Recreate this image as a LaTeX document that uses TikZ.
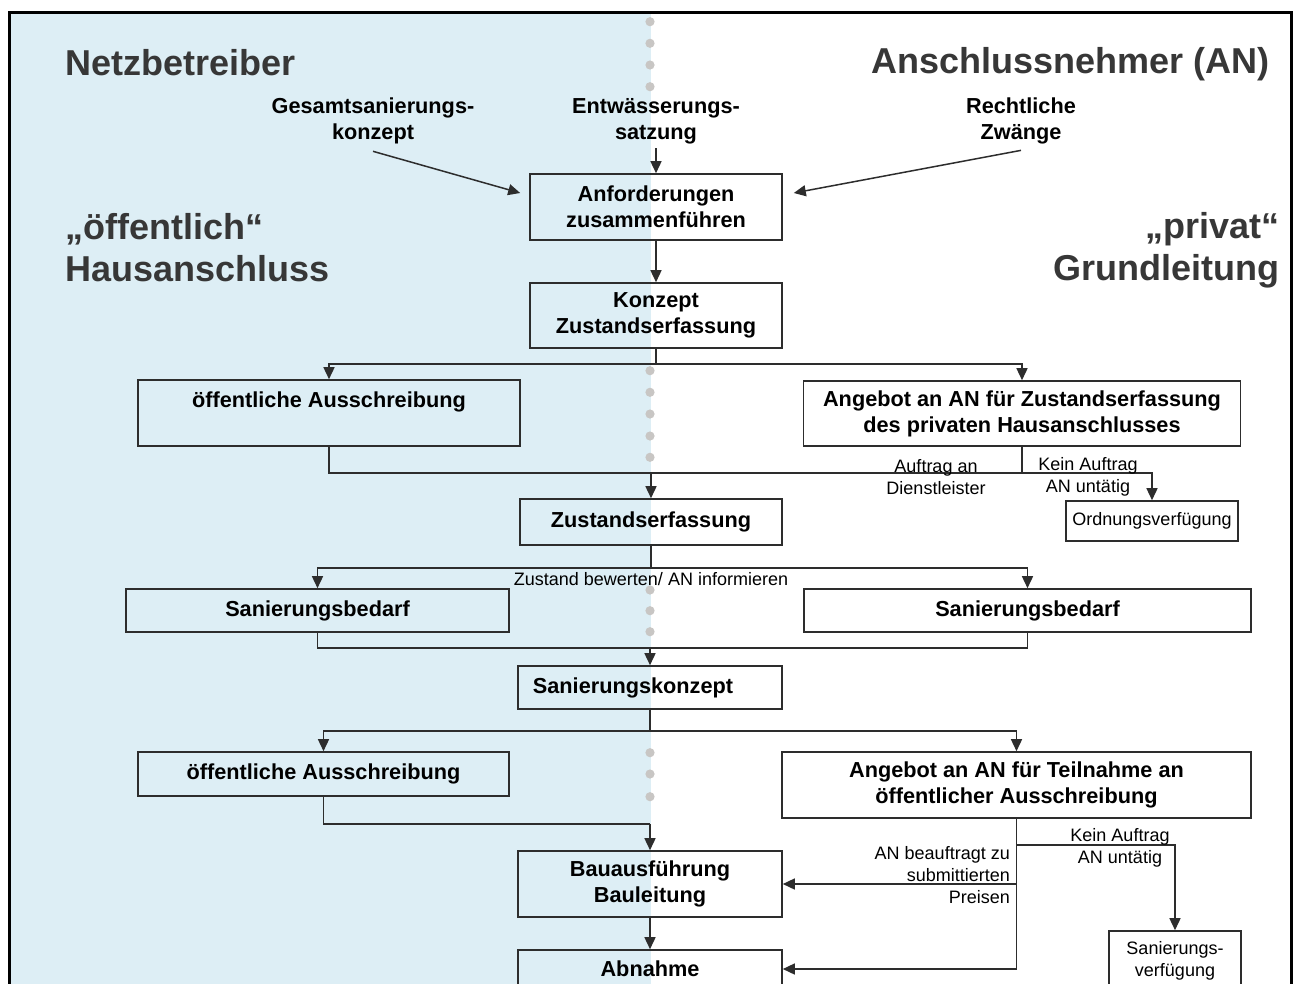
\documentclass[tikz,border=0pt]{standalone}
\usepackage{fontspec}
\setmainfont{Liberation Sans}
\usetikzlibrary{arrows.meta}
\definecolor{bgblue}{RGB}{221,238,245}
\definecolor{ink}{RGB}{45,45,45}
\definecolor{headink}{RGB}{55,55,55}
\definecolor{dotgray}{RGB}{200,198,196}
\begin{document}
\begin{tikzpicture}[x=1pt,y=-1pt,
  box/.style={draw=ink, line width=1.6pt, inner sep=0pt, align=center,
    font=\bfseries\fontsize{21.7}{26}\selectfont, text=black},
  nbox/.style={box, font=\fontsize{18}{22}\selectfont},
  btext/.style={inner sep=0pt, align=center, font=\bfseries\fontsize{21.7}{26}\selectfont, text=black},
  lbl/.style={inner sep=0pt, font=\fontsize{18}{22}\selectfont, text=black},
  head/.style={inner sep=0pt, font=\bfseries\fontsize{36}{42}\selectfont, text=headink},
  conn/.style={draw=ink, line width=1.5pt},
  arr/.style={conn, -{Triangle[length=12pt,width=11pt]}},
  dot/.style={fill=dotgray, draw=none}]
\useasboundingbox (0,0) rectangle (1298,983);
\clip (0,0) rectangle (1298,983);
% background
\fill[bgblue] (10,12) rectangle (651,1000);
\draw[black, line width=3pt] (9,1000) -- (9,12) -- (1291,12) -- (1291,1000);
% dotted divider
\foreach \yy in {21.7,43.3,65,86.7,370.7,392.3,414,436,457.3,590,610.7,631.7,752.7,774,796.7}
  \fill[dot] (650,\yy) circle (4.6pt);
% level coordinates
\coordinate (L1) at (0,364);
\coordinate (L2) at (0,473);
\coordinate (L3) at (0,568);
\coordinate (L4) at (0,648);
\coordinate (L5) at (0,731);
\coordinate (L6) at (0,824);
\coordinate (L7) at (0,845);
% headings
\node[head, anchor=west] (net) at (65,63) {Netzbetreiber};
\node[head, anchor=east] (anh) at (1270,64) {Anschlussnehmer (AN)};
\node[head, anchor=west, align=left] (oef) at (65,248) {„öffentlich“\\Hausanschluss};
\node[head, anchor=east, align=right] (priv) at (1280,250) {„privat“\\Grundleitung};
% inputs
\node[btext] (ges) at (373,121) {Gesamtsanierungs-\\konzept};
\node[btext] (ent) at (656,121) {Entwässerungs-\\satzung};
\node[btext] (rech) at (1021,121) {Rechtliche\\Zwänge};
% boxes
\node[box, minimum width=252pt, minimum height=66pt] (anf) at (656,207) {Anforderungen\\zusammenführen};
\node[box, minimum width=252pt, minimum height=65pt] (konz) at (656,315.5) {Konzept\\Zustandserfassung};
\node[box, minimum width=382pt, minimum height=66pt] (oa1) at (329,413) {öffentliche Ausschreibung\\\mbox{}};
\node[box, minimum width=437pt, minimum height=65pt] (ang1) at (1022,413.5) {Angebot an AN für Zustandserfassung\\des privaten Hausanschlusses};
\node[nbox, minimum width=172pt, minimum height=40pt] (ord) at (1152,521) {Ordnungsverfügung};
\node[box, minimum width=262pt, minimum height=46pt] (zust) at (651,522) {Zustandserfassung};
\node[box, minimum width=383pt, minimum height=43pt] (sb1) at (317.5,610.5) {Sanierungsbedarf};
\node[box, minimum width=447pt, minimum height=43pt] (sb2) at (1027.5,610.5) {Sanierungsbedarf};
\node[box, minimum width=264pt, minimum height=43pt] (sk) at (650,687.5) {};
\node[btext] (sktext) at (633,688) {Sanierungskonzept};
\node[box, minimum width=371pt, minimum height=44pt] (oa2) at (323.5,774) {öffentliche Ausschreibung};
\node[box, minimum width=469pt, minimum height=66pt] (ang2) at (1016.5,785) {Angebot an AN für Teilnahme an\\öffentlicher Ausschreibung};
\node[box, minimum width=264pt, minimum height=66pt] (bau) at (650,884) {Bauausführung\\Bauleitung};
\node[box, minimum width=264pt, minimum height=38pt] (abn) at (650,969) {Abnahme};
\node[nbox, minimum width=132pt, minimum height=60pt] (sv) at (1175,961) {Sanierungs-\\verfügung};
% connectors top
\draw[arr] ([yshift=-7pt]ges.south) -- ([xshift=-9pt,yshift=14pt]anf.west);
\draw[arr] ([yshift=-6pt]rech.south) -- ([xshift=11pt,yshift=14pt]anf.east);
\draw[arr] ([yshift=-4pt]ent.south) -- (anf.north);
\draw[arr] (anf.south) -- (konz.north);
\draw[conn] (konz.south) -- (konz.south |- L1);
\draw[arr] (konz.south |- L1) -| (oa1.north);
\draw[arr] (konz.south |- L1) -| (ang1.north);
% Auftrag row
\draw[conn] (oa1.south) |- (ang1.south |- L2) -- (ang1.south);
\draw[arr] (zust.north |- L2) -- (zust.north);
\draw[arr] (ang1.south |- L2) -| (ord.north);
\node[lbl, align=center] (auf) at (936,477) {Auftrag an\\Dienstleister};
\node[lbl, align=center] (kein1) at (1088,477) {Kein Auftrag\\AN untätig};
% Zustand row
\draw[conn] (zust.south) -- (zust.south |- L3);
\draw[arr] (zust.south |- L3) -| (sb1.north);
\draw[arr] (zust.south |- L3) -| (sb2.north);
\node[lbl] (bew) at (651,579) {Zustand bewerten/ AN informieren};
\draw[conn] (sb1.south) |- (sb2.south |- L4) -- (sb2.south);
\draw[arr] (sk.north |- L4) -- (sk.north);
% Sanierungskonzept row
\draw[conn] (sk.south) -- (sk.south |- L5);
\draw[arr] (sk.south |- L5) -| (oa2.north);
\draw[arr] (sk.south |- L5) -| (ang2.north);
\draw[conn] (oa2.south) |- (bau.north |- L6);
\draw[arr] (bau.north |- L6) -- (bau.north);
\draw[arr] (bau.south) -- (abn.north);
% right branch bottom
\draw[conn] (ang2.south) -- (ang2.south |- abn.east);
\draw[arr] (ang2.south |- bau.east) -- (bau.east);
\draw[arr] (ang2.south |- abn.east) -- (abn.east);
\draw[arr] (ang2.south |- L7) -| (sv.north);
\node[lbl, align=right, anchor=east] (beauf) at (1010,875) {AN beauftragt zu\\submittierten\\Preisen};
\node[lbl, align=center] (kein2) at (1120,848) {Kein Auftrag\\AN untätig};
\end{tikzpicture}
\end{document}
